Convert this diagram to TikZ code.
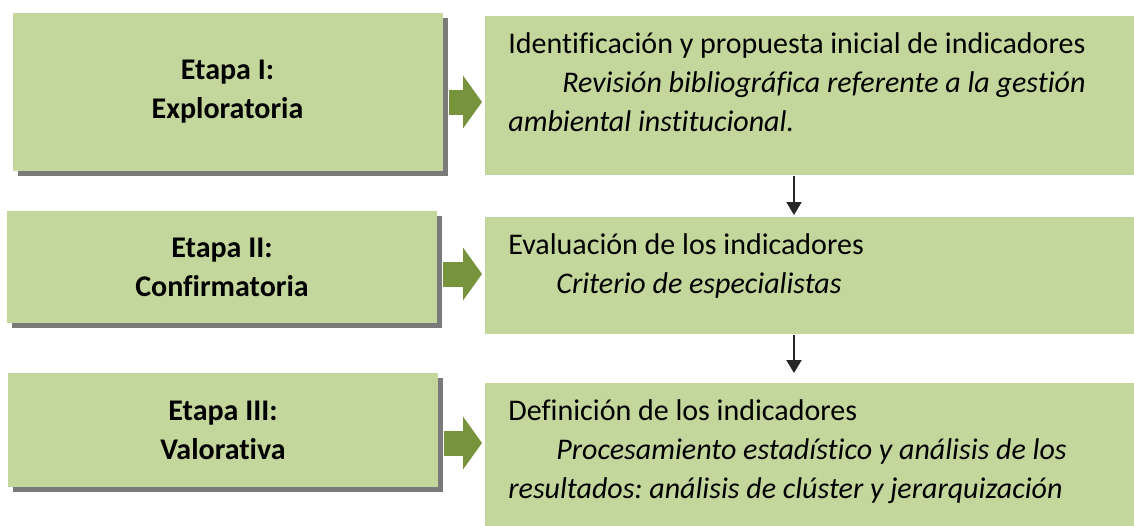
\documentclass[tikz,border=0pt]{standalone}
\usepackage{fontspec}
\setmainfont{Carlito}[Ligatures={NoCommon}]
\usepackage{xcolor}
\usetikzlibrary{arrows.meta,shadows}
\frenchspacing
\definecolor{verdecaja}{HTML}{C3D69B}
\definecolor{verdeflecha}{HTML}{77933C}
\definecolor{sombra}{HTML}{7A7A7A}
\tikzstyle{etapa}=[rectangle,fill=verdecaja,minimum width=215pt,inner sep=0pt,align=center,font=\fontsize{15pt}{19.5pt}\selectfont\bfseries,drop shadow={shadow xshift=2.5pt,shadow yshift=-2.5pt,fill=sombra,opacity=1}]
\tikzstyle{paso}=[rectangle,fill=verdecaja,anchor=north west,minimum width=325pt,inner xsep=11.5pt,inner ysep=5pt,font=\fontsize{15pt}{19.5pt}\selectfont]
\tikzstyle{avance}=[line width=12.5pt,draw=verdeflecha,shorten <=3pt,shorten >=1.5pt,-{Triangle[length=9.5pt,width=26pt]}]
\tikzstyle{baja}=[line width=1pt,draw=black!85,-{Triangle[length=6.5pt,width=7.5pt]}]

\begin{document}
\begin{tikzpicture}[x=0.5pt,y=-0.5pt]
        \path[use as bounding box,fill=white] (0,0) rectangle (1134,525);

        \node at (227.5,92) [etapa,minimum height=79pt] (L1) {Etapa I:\\Exploratoria};
        \node at (222,267)  [etapa,minimum height=56pt] (L2) {Etapa II:\\Confirmatoria};
        \node at (223,430)  [etapa,minimum height=57pt] (L3) {Etapa III:\\Valorativa};

        \node at (485,16)  [paso] (R1) {\parbox[t][69.5pt][t]{302pt}{\raggedright\strut
          Identificación y propuesta inicial de indicadores\\
          \hspace*{27pt}\itshape Revisión bibliográfica referente a la gestión\\
          ambiental institucional.}};
        \node at (485,217) [paso] (R2) {\parbox[t][48.5pt][t]{302pt}{\raggedright\strut
          Evaluación de los indicadores\\
          \hspace*{24pt}\itshape Criterio de especialistas}};
        \node at (485,383) [paso] (R3) {\parbox[t][80pt][t]{302pt}{\raggedright\strut
          Definición de los indicadores\\
          \hspace*{24pt}\itshape Procesamiento estadístico y análisis de los\\
          resultados: análisis de clúster y jerarquización}};

        \coordinate (a1) at (0,102);
        \coordinate (a2) at (0,274);
        \coordinate (a3) at (0,443);
        \coordinate (b1) at (794,0);

        \draw [avance] (L1.east |- a1) -- (R1.west |- a1);
        \draw [avance] (L2.east |- a2) -- (R2.west |- a2);
        \draw [avance] (L3.east |- a3) -- (R3.west |- a3);

        \draw [baja,shorten >=1pt] (R1.south -| b1) -- (R2.north -| b1);
        \draw [baja,shorten >=5pt] (R2.south -| b1) -- (R3.north -| b1);
\end{tikzpicture}
\end{document}
